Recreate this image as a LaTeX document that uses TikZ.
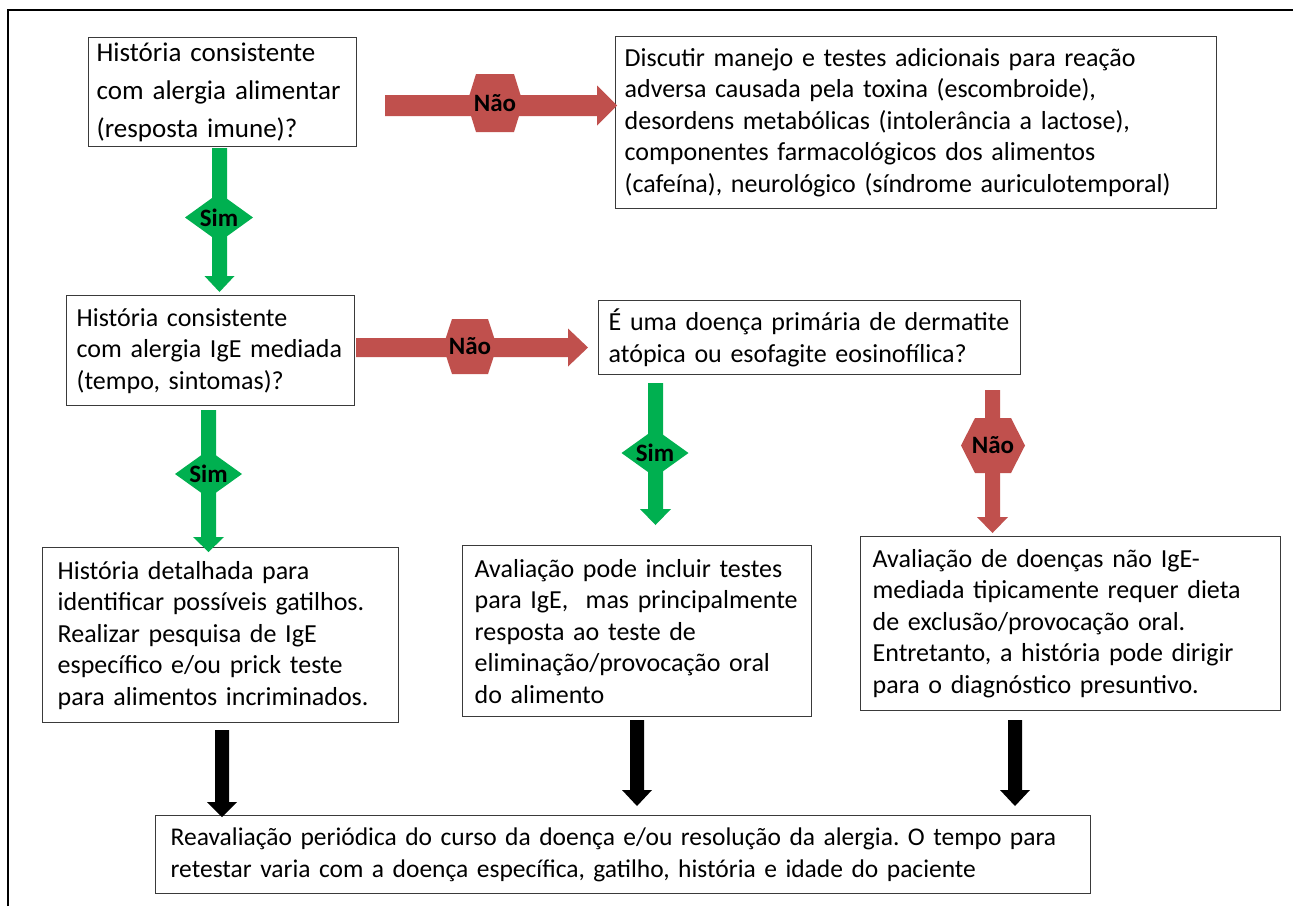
\documentclass[tikz,border=0pt]{standalone}
\usepackage{fontspec}
\setmainfont{Carlito}
\frenchspacing
\definecolor{nred}{HTML}{C0504D}
\definecolor{sgreen}{HTML}{00B050}
\definecolor{boxline}{HTML}{3A3A3A}
\newcommand\varrow[7]{% cx, ytop, ybase, ytip, shafthalf, headhalf, colour
  \fill[#7] (#1-#5,#2) -- (#1+#5,#2) -- (#1+#5,#3) -- (#1+#6,#3) -- (#1,#4) -- (#1-#6,#3) -- (#1-#5,#3) -- cycle;}
\newcommand\harrow[7]{% xstart, xbase, xtip, yc, shafthalf, headhalf, colour
  \fill[#7] (#1,#4-#5) -- (#2,#4-#5) -- (#2,#4-#6) -- (#3,#4) -- (#2,#4+#6) -- (#2,#4+#5) -- (#1,#4+#5) -- cycle;}
\newcommand\hexlbl[6]{% name, cx, cy, halfw, halfh, flat halfw
  \fill[nred] (#2-#4,#3) -- (#2-#6,#3-#5) -- (#2+#6,#3-#5) -- (#2+#4,#3) -- (#2+#6,#3+#5) -- (#2-#6,#3+#5) -- cycle;
  \node[lbl] (#1) at (#2,#3) {Não};}
\newcommand\dialbl[5]{% name, cx, cy, halfw, halfh
  \fill[sgreen] (#2-#4,#3) -- (#2,#3-#5) -- (#2+#4,#3) -- (#2,#3+#5) -- cycle;
  \node[lbl] (#1) at (#2,#3) {Sim};}
\begin{document}
\begin{tikzpicture}[x=1pt,y=-1pt,
  box/.style={draw=boxline, line width=1.3pt, fill=white, anchor=north west, align=left,
    inner ysep=0pt, font=\fontsize{26}{31.5}\selectfont},
  lbl/.style={font=\bfseries\fontsize{25}{28}\selectfont, text=black, inner sep=0pt}]
\useasboundingbox (0,0) rectangle (1293,906);
\fill[white] (0,0) rectangle (1293,906);
% outer frame
\draw[line width=1.4pt] (8,906) -- (8,10) -- (1293,10);
% boxes
\node[box, inner xsep=8pt, text width=252pt, minimum height=109pt,
  font=\fontsize{27}{38}\selectfont] (a) at (88,37)
  {História consistente\\com alergia alimentar\\(resposta imune)?};
\node[box, inner xsep=9pt, text width=583pt, minimum height=172pt] (b) at (615,36)
  {Discutir manejo e testes adicionais para reação\\adversa causada pela toxina (escombroide),\\desordens metabólicas (intolerância a lactose),\\componentes farmacológicos dos alimentos\\(cafeína), neurológico (síndrome auriculotemporal)};
\node[box, inner xsep=10pt, text width=268pt, minimum height=110pt] (c) at (66,295)
  {História consistente\\com alergia IgE mediada\\(tempo, sintomas)?};
\node[box, inner xsep=10pt, text width=402pt, minimum height=74pt] (d) at (598,300)
  {É uma doença primária de dermatite\\atópica ou esofagite eosinofílica?};
\node[box, inner xsep=15pt, text width=326pt, minimum height=175pt] (e) at (42,547)
  {História detalhada para\\identificar possíveis gatilhos.\\Realizar pesquisa de IgE\\específico e/ou prick teste\\para alimentos incriminados.};
\node[box, inner xsep=12pt, text width=325pt, minimum height=171pt] (f) at (462,545)
  {Avaliação pode incluir testes\\para IgE,~ mas principalmente\\resposta ao teste de\\eliminação/provocação oral\\do alimento};
\node[box, inner xsep=12pt, text width=396pt, minimum height=174pt] (g) at (860,536)
  {Avaliação de doenças não IgE-\\mediada tipicamente requer dieta\\de exclusão/provocação oral.\\Entretanto, a história pode dirigir\\para o diagnóstico presuntivo.};
\node[box, inner xsep=15pt, text width=905pt, minimum height=78pt,
  font=\fontsize{25.5}{31.5}\selectfont] (h) at (155,815)
  {Reavaliação periódica do curso da doença e/ou resolução da alergia. O tempo para\\retestar varia com a doença específica, gatilho, história e idade do paciente};
% a -> b (Não)
\harrow{385}{597}{617}{105.5}{10.5}{20}{nred}
\hexlbl{n1}{495}{103}{28}{29}{19}
% a -> c (Sim)
\varrow{219.5}{148}{276}{292}{7.5}{15}{sgreen}
\dialbl{s1}{219}{217.5}{34}{24.5}
% c -> d (Não)
\harrow{356}{568}{588}{347.5}{9.5}{19}{nred}
\hexlbl{n2}{470}{346.5}{27}{27.5}{18}
% c -> e (Sim)
\varrow{208.5}{410}{537}{552}{7.5}{15.5}{sgreen}
\dialbl{s2}{208.5}{474}{33.5}{24}
% d -> f (Sim)
\varrow{655.5}{383}{509}{525}{7.5}{15.5}{sgreen}
\dialbl{s3}{655}{453}{33.5}{24}
% d -> g (Não)
\varrow{992.5}{390}{517}{533}{7.5}{15.5}{nred}
\hexlbl{n3}{993}{445.5}{32}{27.5}{18}
% e, f, g -> h
\varrow{222}{730}{802}{817}{7}{15}{black}
\varrow{637}{720}{790}{806}{7}{15}{black}
\varrow{1015}{720}{790}{806}{7}{15}{black}
\end{tikzpicture}
\end{document}
